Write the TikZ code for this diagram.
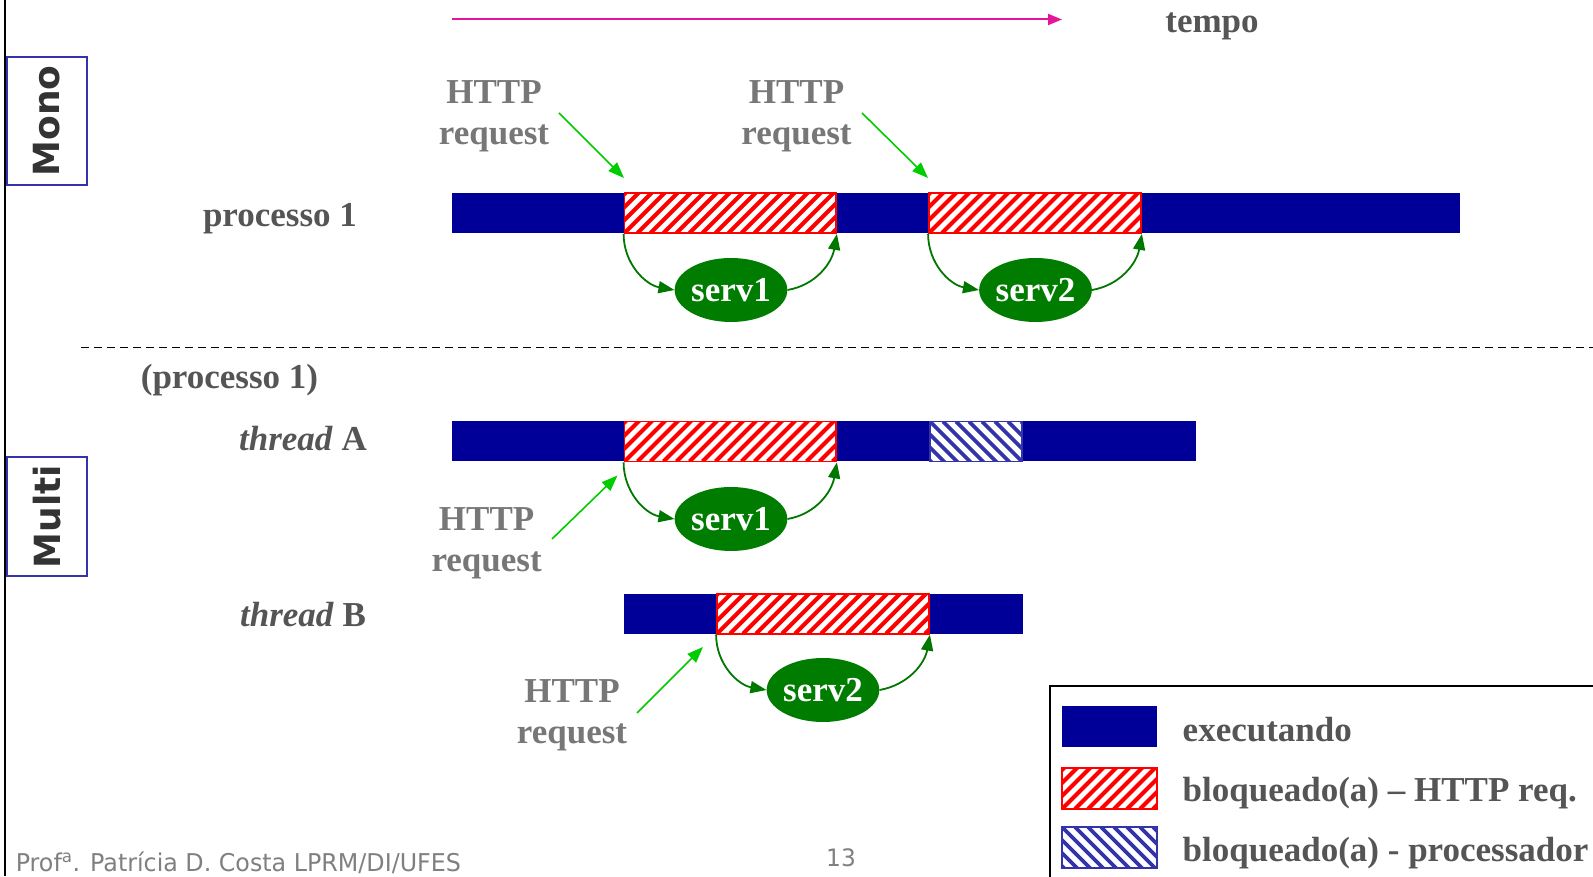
\documentclass[tikz,border=0pt]{standalone}
\usepackage{fontspec}
\setmainfont{Liberation Serif}
\newfontfamily\tagfont{DejaVu Sans}
\newfontfamily\footfont[FakeStretch=0.97]{DejaVu Sans}
\usetikzlibrary{arrows.meta,shapes.geometric}

\definecolor{runblue}{RGB}{0,0,153}
\definecolor{hatchred}{RGB}{255,0,0}
\definecolor{hatchblue}{RGB}{51,51,170}
\definecolor{servgreen}{RGB}{0,125,0}
\definecolor{linkgreen}{RGB}{0,120,0}
\definecolor{reqgreen}{RGB}{0,204,0}
\definecolor{timepink}{RGB}{230,20,155}
\definecolor{labelgrey}{RGB}{85,85,85}
\definecolor{reqgrey}{RGB}{119,119,119}
\definecolor{footgrey}{RGB}{128,128,128}
\definecolor{tagframe}{RGB}{51,51,170}
\definecolor{tagtext}{RGB}{51,51,51}

\newcommand\lblfont{\fontsize{35}{41}\selectfont\bfseries}

\begin{document}
\begin{tikzpicture}[x=1pt,y=1pt,
  runbar/.style={fill=runblue, draw=none, minimum height=40, inner sep=0},
  redhatch/.style={fill=white, draw=hatchred, line width=1.8pt, minimum height=40, inner sep=0,
    path picture={\foreach \k in {-5,...,20}{
      \draw[hatchred, line width=4.2pt] ([xshift=\k*13pt]path picture bounding box.south west) -- ++(60pt,60pt);}}},
  bluehatch/.style={fill=white, draw=hatchblue, line width=1.5pt, minimum height=40, inner sep=0,
    path picture={\foreach \k in {-5,...,10}{
      \draw[hatchblue, line width=3.8pt] ([xshift=\k*13pt]path picture bounding box.north west) -- ++(60pt,-60pt);}}},
  serv/.style={ellipse, fill=servgreen, minimum width=106, minimum height=64, inner sep=0,
    text=white, font=\lblfont},
  link/.style={draw=linkgreen, line width=1.8pt, -{Triangle[length=16pt,width=12pt]}},
  reqarrow/.style={draw=reqgreen, line width=1.6pt, -{Triangle[length=16pt,width=12pt]}},
  reqlabel/.style={font=\lblfont, text=reqgrey, align=center, inner sep=0},
  rowlabel/.style={font=\lblfont, text=labelgrey, inner sep=0, anchor=base},
  tagbox/.style={draw=tagframe, line width=1.5pt, rotate=90, minimum height=80, inner sep=0,
    font=\tagfont\fontsize{36}{36}\selectfont\bfseries, text=tagtext},
  swatch/.style={minimum width=95, minimum height=41},
  legtext/.style={font=\lblfont, text=labelgrey, inner sep=0, anchor=base west}
]
\useasboundingbox (0,0) rectangle (1593,876);
\fill[white] (0,0) rectangle (1593,876);

% frame line on the left
\coordinate (edge0) at (5,0);
\coordinate (edge1) at (5,876);
\draw[line width=2.5pt] (edge0) -- (edge1);

% time axis
\coordinate (t0) at (452,856.5);
\coordinate (t1) at (1062,856.5);
\draw[draw=timepink, line width=2pt, -{Triangle[length=14pt,width=11pt]}] (t0) -- (t1);
\node[rowlabel] (tempo) at (1212,843) {tempo};

% section tags
\node[tagbox, minimum width=128] (mono) at (47,755) {Mono};
\node[tagbox, minimum width=119] (multi) at (47,359.5) {Multi};

% ---- single-threaded process ----
\node[rowlabel] (proc) at (280,649) {processo 1};
\node[runbar, minimum width=1008] (pbar) at (956,663) {};
\node[redhatch, minimum width=211.5] (pr1) at (730.25,663) {};
\node[redhatch, minimum width=212] (pr2) at (1035,663) {};

\node[serv] (ms1) at (731,586) {serv1};
\node[serv] (ms2) at (1035.5,586) {serv2};
\draw[link] (pr1.south west) to[out=-90, in=170] (ms1.west);
\draw[link] (ms1.east) to[out=10, in=-100] (pr1.south east);
\draw[link] (pr2.south west) to[out=-90, in=170] (ms2.west);
\draw[link] (ms2.east) to[out=10, in=-100] (pr2.south east);

\node[reqlabel] (mh1) at (494,760) {HTTP\\request};
\node[reqlabel] (mh2) at (796.5,760) {HTTP\\request};
\coordinate (ma1) at (559,763);
\coordinate (mb1) at (624,698);
\coordinate (ma2) at (862,763);
\coordinate (mb2) at (928,698);
\draw[reqarrow] (ma1) -- (mb1);
\draw[reqarrow] (ma2) -- (mb2);

% separator
\coordinate (sep0) at (81,528.5);
\coordinate (sep1) at (1593,528.5);
\draw[line width=1.4pt, dash pattern=on 8pt off 5pt] (sep0) -- (sep1);

% ---- multi-threaded process ----
\node[rowlabel] (procm) at (229.5,487) {(processo 1)};
\node[rowlabel] (tha) at (303,425) {\textit{thread} A};
\node[rowlabel] (thb) at (303,249.3) {\textit{thread} B};

\node[runbar, minimum width=744] (abar) at (824,434.5) {};
\node[redhatch, minimum width=211.5] (ar1) at (730.25,434.5) {};
\node[bluehatch, minimum width=92] (acpu) at (976,434.5) {};
\node[serv] (as1) at (731,357) {serv1};
\draw[link] (ar1.south west) to[out=-90, in=170] (as1.west);
\draw[link] (as1.east) to[out=10, in=-100] (ar1.south east);
\node[reqlabel] (ah1) at (486.6,333) {HTTP\\request};
\coordinate (aa1) at (552,337);
\coordinate (ab1) at (617.5,400.5);
\draw[reqarrow] (aa1) -- (ab1);

\node[runbar, minimum width=399] (bbar) at (823.5,262.25) {};
\node[redhatch, minimum width=212] (br1) at (823,262.25) {};
\node[serv] (bs1) at (823,186) {serv2};
\draw[link] (br1.south west) to[out=-90, in=170] (bs1.west);
\draw[link] (bs1.east) to[out=10, in=-100] (br1.south east);
\node[reqlabel] (bh1) at (572,161) {HTTP\\request};
\coordinate (ba1) at (637,163);
\coordinate (bb1) at (703,229);
\draw[reqarrow] (ba1) -- (bb1);

% ---- legend ----
\node[draw=black, line width=2pt, minimum width=570, minimum height=210, inner sep=0] (legend) at (1335,85) {};
\node[runbar, swatch] (lgrun) at (1109.5,149.5) {};
\node[redhatch, swatch] (lgreq) at (1109.5,87.5) {};
\node[bluehatch, swatch] (lgcpu) at (1109.5,28.5) {};
\node[legtext] (lt1) at (1182.5,134.3) {executando};
\node[legtext] (lt2) at (1182.5,74.3) {bloqueado(a) – HTTP req.};
\node[legtext] (lt3) at (1182.5,14.3) {bloqueado(a) - processador};

% footer
\node[anchor=base west, inner sep=0, text=footgrey, font=\footfont\fontsize{24.5}{24.5}\selectfont] (foot) at (15.6,4.3) {Prof\textsuperscript{a}. Patrícia D. Costa LPRM/DI/UFES};
\node[anchor=base, inner sep=0, text=footgrey, font=\footfont\fontsize{24}{24}\selectfont] (page) at (841,9.3) {13};
\end{tikzpicture}
\end{document}
